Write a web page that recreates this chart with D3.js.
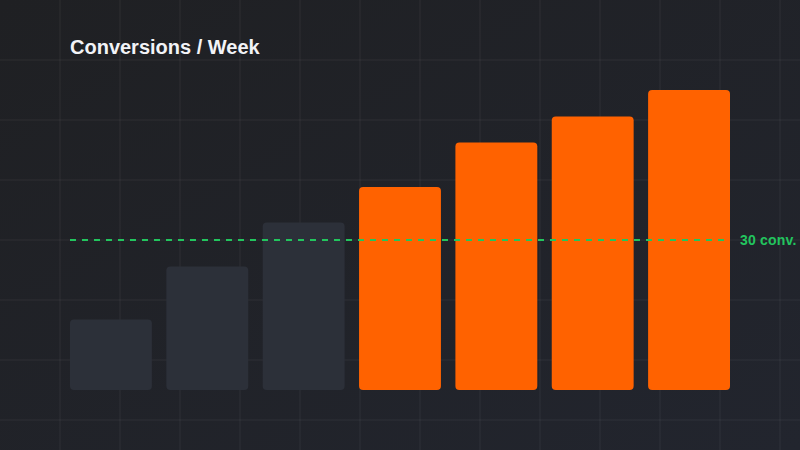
<!DOCTYPE html>
<html>
<head>
<meta charset="utf-8">
<script src="https://cdn.jsdelivr.net/npm/d3@7"></script>
<style>
  html, body { margin: 0; padding: 0; background: #1f2127; }
  svg { display: block; }
</style>
</head>
<body>
<div id="chart-area"></div>
<script>
// data
var weeks = ["W1", "W2", "W3", "W4", "W5", "W6", "W7"];
var conversions = [14.1, 24.7, 33.5, 40.6, 49.5, 54.7, 60];
var highlighted = [false, false, false, true, true, true, true];
var targetValue = 30;
var targetLabel = "30 conv.";
var title = "Conversions / Week";

var W = 800, H = 450;
var margin = {left: 70, right: 70, top: 60, bottom: 60};

var svg = d3.select("#chart-area").append("svg")
    .attr("width", W)
    .attr("height", H);

// background with soft gradient
var defs = svg.append("defs");
var grad = defs.append("linearGradient")
    .attr("id", "bg")
    .attr("x1", "0").attr("y1", "0")
    .attr("x2", "1").attr("y2", "1");
grad.append("stop").attr("offset", "0%").attr("stop-color", "#1f2023");
grad.append("stop").attr("offset", "100%").attr("stop-color", "#22252e");

svg.append("rect")
    .attr("width", W)
    .attr("height", H)
    .attr("fill", "url(#bg)");

// background grid, every 60px
var grid = svg.append("g").attr("class", "grid");
grid.selectAll("line.v")
    .data(d3.range(60, W, 60))
    .enter().append("line")
    .attr("class", "v")
    .attr("x1", function(d) { return d; })
    .attr("x2", function(d) { return d; })
    .attr("y1", 0).attr("y2", H);
grid.selectAll("line.h")
    .data(d3.range(60, H, 60))
    .enter().append("line")
    .attr("class", "h")
    .attr("y1", function(d) { return d; })
    .attr("y2", function(d) { return d; })
    .attr("x1", 0).attr("x2", W);
grid.selectAll("line")
    .attr("stroke", "#ffffff")
    .attr("stroke-opacity", 0.03)
    .attr("stroke-width", 2);

var x = d3.scaleBand()
    .domain(weeks)
    .range([margin.left, W - margin.right])
    .paddingInner(0.15)
    .paddingOuter(0);

var y = d3.scaleLinear()
    .domain([0, d3.max(conversions) * 1.1])
    .range([H - margin.bottom, margin.top]);

svg.append("text")
    .attr("x", margin.left)
    .attr("y", 54)
    .attr("fill", "#f2f3f7")
    .attr("font-family", "Liberation Sans, Arial, sans-serif")
    .attr("font-size", "20px")
    .attr("font-weight", "bold")
    .text(title);

var bars = weeks.map(function(w, i) {
    return {week: w, value: conversions[i], hot: highlighted[i]};
});

svg.selectAll("rect.bar")
    .data(bars)
    .enter().append("rect")
    .attr("class", "bar")
    .attr("x", function(d) { return x(d.week); })
    .attr("y", function(d) { return y(d.value); })
    .attr("width", x.bandwidth())
    .attr("height", function(d) { return y(0) - y(d.value); })
    .attr("rx", 4)
    .attr("fill", function(d) { return d.hot ? "#ff6200" : "#2c3039"; });

// target line
svg.append("line")
    .attr("x1", margin.left)
    .attr("x2", W - margin.right)
    .attr("y1", y(targetValue))
    .attr("y2", y(targetValue))
    .attr("stroke", "#22c55e")
    .attr("stroke-width", 2)
    .attr("stroke-dasharray", "6,6");

svg.append("text")
    .attr("x", W - margin.right + 10)
    .attr("y", y(targetValue))
    .attr("dy", "0.35em")
    .attr("fill", "#22c55e")
    .attr("font-family", "Liberation Sans, Arial, sans-serif")
    .attr("font-size", "14px")
    .attr("font-weight", "bold")
    .attr("letter-spacing", "0.2px")
    .text(targetLabel);
</script>
</body>
</html>
